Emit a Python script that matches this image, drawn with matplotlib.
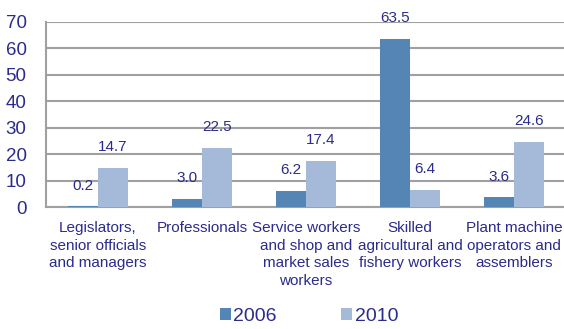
import numpy as np
import matplotlib.pyplot as plt

plt.rcParams["font.family"] = ["Liberation Sans", "DejaVu Sans"]

categories = ["Legislators,\nsenior officials\nand managers", "Professionals",
              "Service workers\nand shop and\nmarket sales\nworkers",
              "Skilled\nagricultural and\nfishery workers",
              "Plant machine\noperators and\nassemblers"]
vals_2006 = [0.2, 3.0, 6.2, 63.5, 3.6]
vals_2010 = [14.7, 22.5, 17.4, 6.4, 24.6]
yticks = [0, 10, 20, 30, 40, 50, 60, 70]

text_col = "#2B2B8C"
c2006 = "#5585B5"
c2010 = "#A5B9D9"

fig = plt.figure(figsize=(5.64, 3.29), dpi=100)
ax = fig.add_axes([46 / 564, 1 - 207 / 329, 518 / 564, 185 / 329])

x = np.arange(len(categories))
w = 0.29
b1 = ax.bar(x - w / 2, vals_2006, w, color=c2006, label="2006", zorder=3)
b2 = ax.bar(x + w / 2, vals_2010, w, color=c2010, label="2010", zorder=3)

for bars, vals in [(b1, vals_2006), (b2, vals_2010)]:
    for r, v in zip(bars, vals):
        ax.annotate(f"{v:.1f}", (r.get_x() + r.get_width() / 2, v),
                    xytext=(0, 10), textcoords="offset points",
                    ha="center", va="bottom", fontsize=11, color=text_col)

ax.set_ylim(0, 70)
ax.set_xlim(-0.5, 4.48)
ax.set_yticks(yticks)
ax.yaxis.grid(True, color="#A0A0A0", linewidth=1.5, zorder=0)
ax.set_axisbelow(True)
for s in ["top", "right"]:
    ax.spines[s].set_visible(False)
for s in ["left", "bottom"]:
    ax.spines[s].set_color("#A0A0A0")
    ax.spines[s].set_linewidth(1.5)
ax.tick_params(axis="y", length=0, pad=14, labelsize=13.5, labelcolor=text_col)
ax.tick_params(axis="x", length=0, pad=10, labelsize=11, labelcolor=text_col)
ax.set_xticks(x)
ax.set_xticklabels(categories, va="top", linespacing=1.33)

fig.legend(loc="lower center", bbox_to_anchor=(0.548, -0.04), ncol=2, frameon=False,
           fontsize=14, labelcolor=text_col, handlelength=0.55, handleheight=0.55,
           handletextpad=0.15, columnspacing=3.3)

fig.savefig("out.png", dpi=100)
